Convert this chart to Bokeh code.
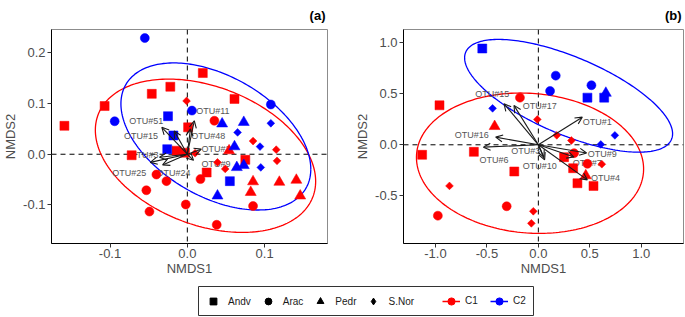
import numpy as np
from bokeh.plotting import figure
from bokeh.models import (Range1d, Span, Arrow, OpenHead, ColumnDataSource,
                          FixedTicker, Legend, LegendItem, PrintfTickFormatter)
from bokeh.layouts import column, row
from bokeh.core.properties import value
from bokeh.embed import file_html
from bokeh.resources import INLINE

FONT = "Liberation Sans"
RED = "#FF0000"
BLUE = "#0000FF"

shape_names = ["Andv", "Arac", "Pedr", "S.Nor"]
cluster_names = ["C1", "C2"]

# ---------------- Panel (a) data ----------------
a_andv_c1_x = [-0.159, -0.107, -0.046, -0.022, 0.020, 0.061, 0.001, -0.072, -0.014, -0.003, 0.075, 0.025]
a_andv_c1_y = [0.056, 0.095, 0.119, 0.133, 0.160, 0.109, 0.053, -0.002, 0.007, 0.003, -0.011, -0.036]
a_andv_c2_x = [-0.025, -0.018, -0.026, 0.055]
a_andv_c2_y = [0.075, 0.037, 0.010, -0.053]
a_arac_c1_x = [0.035, -0.040, -0.027, -0.053, -0.049, -0.002, 0.017, 0.038, 0.085]
a_arac_c1_y = [0.066, -0.040, -0.053, -0.071, -0.113, -0.099, -0.049, -0.139, -0.102]
a_arac_c2_x = [-0.055, -0.094, 0.006, 0.108]
a_arac_c2_y = [0.229, 0.065, 0.086, 0.098]
a_pedr_c1_x = [0.085, 0.082, 0.119, 0.141, 0.146, 0.054]
a_pedr_c1_y = [-0.054, -0.075, -0.055, -0.051, -0.082, 0.007]
a_pedr_c2_x = [0.045, 0.073, 0.061, 0.064, 0.073, 0.039]
a_pedr_c2_y = [0.060, 0.063, 0.015, -0.026, -0.022, -0.082]
a_snor_c1_x = [-0.001, 0.085, 0.115, 0.116, 0.049, 0.039, 0.010]
a_snor_c1_y = [0.105, 0.026, 0.009, -0.013, -0.029, -0.016, 0.002]
a_snor_c2_x = [0.065, 0.108, 0.094, 0.095]
a_snor_c2_y = [0.043, 0.061, 0.015, -0.026]

a_otu = ["OTU#11", "OTU#51", "OTU#15", "OTU#48", "OTU#2", "OTU#3", "OTU#25", "OTU#24", "OTU#9"]
a_tip_x = [0.009, -0.033, -0.017, 0.004, 0.018, -0.036, -0.048, -0.032, 0.008]
a_tip_y = [0.066, 0.053, 0.046, 0.050, 0.010, -0.006, -0.016, -0.021, -0.012]
a_lab_x = [0.033, -0.053, -0.060, 0.027, 0.037, -0.056, -0.075, -0.018, 0.037]
a_lab_y = [0.086, 0.066, 0.036, 0.036, 0.010, -0.001, -0.036, -0.036, -0.020]

a_ell_c1_center = [0.0235, -0.003]
a_ell_c1_cov = [[0.0203, -0.0072], [-0.0072, 0.0228]]
a_ell_c2_center = [0.0369, 0.035]
a_ell_c2_cov = [[0.01508, -0.0079], [-0.0079, 0.0210]]

a_xticks = [-0.1, 0.0, 0.1]
a_xtick_labels = ["-0.1", "0.0", "0.1"]
a_yticks = [-0.1, 0.0, 0.1, 0.2]
a_ytick_labels = ["-0.1", "0.0", "0.1", "0.2"]

# ---------------- Panel (b) data ----------------
b_andv_c1_x = [-0.961, -1.130, -0.627, -0.234, 0.338, 0.380, 0.536, 0.250]
b_andv_c1_y = [0.386, -0.098, -0.069, -0.261, -0.229, -0.376, -0.402, -0.121]
b_andv_c2_x = [-0.545, 0.477, 0.640]
b_andv_c2_y = [0.941, 0.461, 0.461]
b_arac_c1_x = [-0.179, -0.977, -0.308, 0.347, 0.477]
b_arac_c1_y = [0.461, -0.693, -0.601, -0.082, -0.186]
b_arac_c2_x = [0.169, 0.114, 0.516]
b_arac_c2_y = [0.676, 0.526, 0.582]
b_pedr_c1_x = [-0.425, 0.461]
b_pedr_c1_y = [0.180, -0.301]
b_pedr_c2_x = [0.656]
b_pedr_c2_y = [0.505]
b_snor_c1_x = [-0.010, 0.179, 0.321, 0.617, -0.864, -0.049, -0.068]
b_snor_c1_y = [0.248, 0.092, 0.042, -0.190, -0.402, -0.650, -0.768]
b_snor_c2_x = [-0.445, 0.607, 0.744]
b_snor_c2_y = [0.356, 0.003, 0.092]

b_otu = ["OTU#15", "OTU#17", "OTU#1", "OTU#16", "OTU#6", "OTU#3", "OTU#10", "OTU#9", "OTU#7", "OTU#4"]
b_tip_x = [-0.334, -0.237, 0.427, -0.415, -0.534, 0.054, 0.061, 0.469, 0.346, 0.476]
b_tip_y = [0.402, 0.385, 0.270, 0.075, -0.023, -0.121, -0.147, -0.080, -0.120, -0.343]
b_lab_x = [-0.448, 0.013, 0.573, -0.648, -0.431, -0.123, 0.013, 0.621, 0.476, 0.653]
b_lab_y = [0.493, 0.376, 0.222, 0.098, -0.144, -0.062, -0.210, -0.088, -0.176, -0.327]

b_ell_c1_center = [-0.081, -0.180]
b_ell_c1_cov = [[1.219, -0.0624], [-0.0624, 0.4706]]
b_ell_c2_center = [0.294, 0.479]
b_ell_c2_cov = [[1.022, -0.375], [-0.375, 0.3036]]

b_xticks = [-1.0, -0.5, 0.0, 0.5, 1.0]
b_xtick_labels = ["-1.0", "-0.5", "0.0", "0.5", "1.0"]
b_yticks = [-0.5, 0.0, 0.5, 1.0]
b_ytick_labels = ["-0.5", "0.0", "0.5", "1.0"]


def ellipse_xy(center, cov, n=240):
    L = np.linalg.cholesky(np.array(cov))
    t = np.linspace(0, 2 * np.pi, n)
    pts = L @ np.vstack([np.cos(t), np.sin(t)])
    return center[0] + pts[0], center[1] + pts[1]


MARKERS = {
    "Andv": dict(marker="square", size=9, angle=0.0),
    "Arac": dict(marker="circle", size=9, angle=0.0),
    "Pedr": dict(marker="triangle", size=11, angle=0.0),
    "S.Nor": dict(marker="square", size=5.5, angle=np.pi / 4),
}
LEGEND_MARKERS = {"Andv": "square", "Arac": "circle", "Pedr": "triangle", "S.Nor": "diamond"}


def style_axis(ax, ticks, labels, label, lab_standoff, title_standoff):
    ax.ticker = FixedTicker(ticks=ticks)
    ax.formatter = PrintfTickFormatter(format="%.1f")
    ax.major_label_overrides = {t: s for t, s in zip(ticks, labels)}
    ax.minor_tick_line_color = None
    ax.major_tick_in = 0
    ax.major_tick_out = 4
    ax.major_tick_line_color = "#333333"
    ax.axis_line_color = "black"
    ax.major_label_text_font = FONT
    ax.major_label_text_font_size = "13px"
    ax.major_label_text_color = "#4d4d4d"
    ax.major_label_standoff = lab_standoff
    ax.axis_label = label
    ax.axis_label_text_font = FONT
    ax.axis_label_text_font_size = "13px"
    ax.axis_label_text_font_style = "normal"
    ax.axis_label_text_color = "#4d4d4d"
    ax.axis_label_standoff = title_standoff


def make_panel(title, width, bl, br, xr, yr, groups, ells, otu, tx, ty, lx, ly,
               xticks, xlabs, yticks, ylabs):
    p = figure(width=width, height=278, x_range=Range1d(*xr), y_range=Range1d(*yr),
               output_backend="svg", toolbar_location=None, title=title,
               min_border_left=bl, min_border_right=br, min_border_top=29, min_border_bottom=35)
    p.title.align = "right"
    p.title.vertical_align = "top"
    p.title.text_font = FONT
    p.title.text_font_size = "13px"
    p.title.text_font_style = "bold"
    p.title.text_color = "black"
    p.title.standoff = 10
    p.title.offset = 2
    p.xgrid.visible = False
    p.ygrid.visible = False
    p.outline_line_color = "#8c8c8c"
    p.outline_line_width = 1
    p.background_fill_color = "white"
    p.border_fill_color = "white"
    style_axis(p.xaxis[0], xticks, xlabs, "NMDS1", 1, 0)
    style_axis(p.yaxis[0], yticks, ylabs, "NMDS2", 2, 2)

    p.add_layout(Span(location=0, dimension="height", line_dash="5 4",
                      line_color="black", line_width=1, level="underlay"))
    p.add_layout(Span(location=0, dimension="width", line_dash="5 4",
                      line_color="black", line_width=1, level="underlay"))

    for (center, cov), col in zip(ells, [RED, BLUE]):
        ex, ey = ellipse_xy(center, cov)
        p.line(ex, ey, line_color=col, line_width=1.3)

    p.text(x=lx, y=ly, text=otu, text_font=value(FONT), text_font_size=value("9px"),
           text_align="center", text_baseline="middle", text_color="#555555")

    for (shape, col, xs, ys) in groups:
        m = MARKERS[shape]
        p.scatter(x=xs, y=ys, marker=m["marker"], size=m["size"], angle=m["angle"],
                  fill_color=col, line_color=col, line_width=0.5)

    src = ColumnDataSource(dict(x0=[0.0] * len(tx), y0=[0.0] * len(tx), x1=tx, y1=ty))
    p.add_layout(Arrow(end=OpenHead(size=7, line_width=1.1, line_color="#1a1a1a"),
                       x_start="x0", y_start="y0", x_end="x1", y_end="y1",
                       source=src, line_width=1.1, line_color="#1a1a1a"))
    return p


groups_a = [
    ("Andv", RED, a_andv_c1_x, a_andv_c1_y), ("Andv", BLUE, a_andv_c2_x, a_andv_c2_y),
    ("Arac", RED, a_arac_c1_x, a_arac_c1_y), ("Arac", BLUE, a_arac_c2_x, a_arac_c2_y),
    ("Pedr", RED, a_pedr_c1_x, a_pedr_c1_y), ("Pedr", BLUE, a_pedr_c2_x, a_pedr_c2_y),
    ("S.Nor", RED, a_snor_c1_x, a_snor_c1_y), ("S.Nor", BLUE, a_snor_c2_x, a_snor_c2_y),
]
groups_b = [
    ("Andv", RED, b_andv_c1_x, b_andv_c1_y), ("Andv", BLUE, b_andv_c2_x, b_andv_c2_y),
    ("Arac", RED, b_arac_c1_x, b_arac_c1_y), ("Arac", BLUE, b_arac_c2_x, b_arac_c2_y),
    ("Pedr", RED, b_pedr_c1_x, b_pedr_c1_y), ("Pedr", BLUE, b_pedr_c2_x, b_pedr_c2_y),
    ("S.Nor", RED, b_snor_c1_x, b_snor_c1_y), ("S.Nor", BLUE, b_snor_c2_x, b_snor_c2_y),
]

pa = make_panel("(a)", 342, 46, 15, (-0.1757, 0.1813), (-0.1759, 0.2458), groups_a,
                [(a_ell_c1_center, a_ell_c1_cov), (a_ell_c2_center, a_ell_c2_cov)],
                a_otu, a_tip_x, a_tip_y, a_lab_x, a_lab_y,
                a_xticks, a_xtick_labels, a_yticks, a_ytick_labels)
pb = make_panel("(b)", 343, 61, 2, (-1.311, 1.411), (-0.965, 1.127), groups_b,
                [(b_ell_c1_center, b_ell_c1_cov), (b_ell_c2_center, b_ell_c2_cov)],
                b_otu, b_tip_x, b_tip_y, b_lab_x, b_lab_y,
                b_xticks, b_xtick_labels, b_yticks, b_ytick_labels)

# ---------------- Legend strip ----------------
pl = figure(width=685, height=39, x_range=Range1d(0, 1), y_range=Range1d(0, 1),
            output_backend="svg", toolbar_location=None, x_axis_type=None, y_axis_type=None,
            min_border_left=198, min_border_right=152, min_border_top=8, min_border_bottom=2)
pl.outline_line_color = "#333333"
pl.outline_line_width = 1
pl.xgrid.visible = False
pl.ygrid.visible = False

# legend proxies: one NaN row each, so nothing is drawn in the strip itself
nan_src = dict(x=[np.nan], y=[np.nan])

shape_items = []
for name in shape_names:
    r = pl.scatter(x="x", y="y", source=ColumnDataSource(nan_src), marker=LEGEND_MARKERS[name],
                   size=8, fill_color="black", line_color="black")
    shape_items.append(LegendItem(label=name, renderers=[r]))

color_items = []
for name, col in zip(cluster_names, [RED, BLUE]):
    ln = pl.line(x="x", y="y", source=ColumnDataSource(nan_src), line_color=col, line_width=1.5)
    dot = pl.scatter(x="x", y="y", source=ColumnDataSource(nan_src), marker="circle", size=8,
                     fill_color=col, line_color=col)
    color_items.append(LegendItem(label=name, renderers=[ln, dot]))

common = dict(orientation="horizontal", border_line_color=None, background_fill_alpha=0,
              label_text_font=FONT, label_text_font_size="10px", label_text_color="#1a1a1a",
              margin=0, label_height=14)
leg1 = Legend(items=shape_items, location="left", padding=7, glyph_width=30, glyph_height=17,
              label_standoff=0, spacing=2, **common)
leg2 = Legend(items=color_items, location="right", padding=10, glyph_width=18, glyph_height=18,
              label_standoff=5, spacing=5, **common)
pl.add_layout(leg1, "center")
pl.add_layout(leg2, "center")

layout = column(row(pa, pb), pl)
open("out.html", "w").write(file_html(layout, INLINE))
